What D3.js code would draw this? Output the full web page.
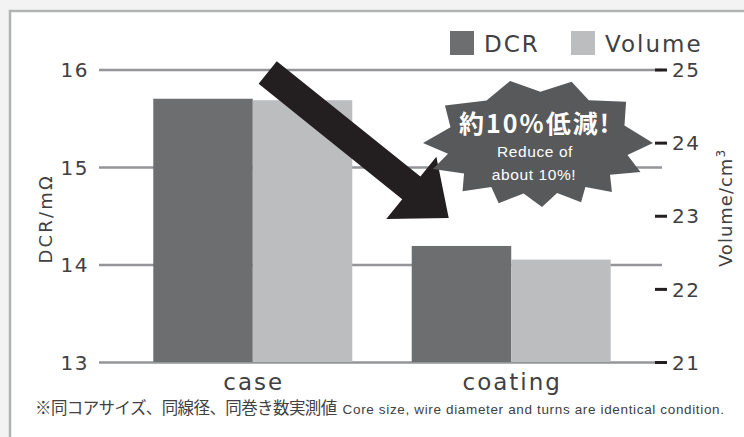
<!DOCTYPE html>
<html>
<head>
<meta charset="utf-8">
<script src="https://cdn.jsdelivr.net/npm/d3@7"></script>
<style>
  html, body { margin: 0; padding: 0; background: #f3f3f3; }
  svg { display: block; }
  text { font-family: "DejaVu Sans", sans-serif; }
  .jp { font-family: "Noto Sans CJK JP", sans-serif; }
  .sans { font-family: "Liberation Sans", Arial, sans-serif; }
</style>
</head>
<body>
<svg id="chart" width="744" height="437"></svg>
<script>
// Measured values
const categories = ["case", "coating"];
const seriesNames = ["DCR", "Volume"];
const dcrValues = [15.70, 14.19];      // mΩ, left axis
const volumeValues = [24.58, 22.40];   // cm³, right axis
const dcrTicks = [13, 14, 15, 16];
const volumeTicks = [21, 22, 23, 24, 25];

const colors = { DCR: "#6d6e70", Volume: "#bcbdbf" };
const textColor = "#414042";

const svg = d3.select("#chart");

// Panel frame
svg.append("rect")
  .attr("x", 10).attr("y", 11)
  .attr("width", 760).attr("height", 450)
  .attr("fill", "#ffffff")
  .attr("stroke", "#b1b2b4")
  .attr("stroke-width", 2.5);

const plot = { left: 99, right: 662, top: 69.5, bottom: 362 };

const yL = d3.scaleLinear().domain([13, 16]).range([plot.bottom, plot.top]);
const yR = d3.scaleLinear().domain([21, 25]).range([plot.bottom, plot.top]);
const x0 = d3.scaleBand().domain(categories)
  .range([plot.left, plot.right + 3])
  .paddingInner(0.23).paddingOuter(0.21);
const x1 = d3.scaleBand().domain(seriesNames).range([0, x0.bandwidth()]).padding(0);

// Left axis with gridlines
const leftAxis = svg.append("g")
  .attr("transform", `translate(${plot.left},0)`)
  .call(d3.axisLeft(yL).tickValues(dcrTicks).tickSize(-(plot.right - plot.left)).tickPadding(10).tickFormat(d3.format("d")));
leftAxis.select(".domain").remove();
leftAxis.selectAll(".tick line").attr("stroke", "#939598").attr("stroke-width", 2.5);
leftAxis.selectAll(".tick text")
  .attr("fill", textColor).style("font-size", "20px").style("letter-spacing", "1.5px")
  .attr("dy", "0.36em");

// Bars
const rows = categories.map((c, i) => ({ category: c, DCR: dcrValues[i], Volume: volumeValues[i] }));
const groups = svg.append("g").selectAll("g").data(rows).join("g")
  .attr("transform", d => `translate(${x0(d.category)},0)`);
groups.selectAll("rect")
  .data(d => [
    { key: "DCR", y: yL(d.DCR) },
    { key: "Volume", y: yR(d.Volume) }
  ])
  .join("rect")
  .attr("x", d => x1(d.key))
  .attr("width", x1.bandwidth())
  .attr("y", d => d.y)
  .attr("height", d => plot.bottom - d.y)
  .attr("fill", d => colors[d.key]);

// Right axis
const rightAxis = svg.append("g")
  .attr("transform", `translate(${plot.right - 7},0)`)
  .call(d3.axisRight(yR).tickValues(volumeTicks).tickSize(12).tickPadding(5).tickFormat(d3.format("d")));
rightAxis.select(".domain").remove();
rightAxis.selectAll(".tick line").attr("stroke", "#231f20").attr("stroke-width", 3);
rightAxis.selectAll(".tick text")
  .attr("fill", textColor).style("font-size", "20px").style("letter-spacing", "1.5px")
  .attr("dy", "0.36em");

// Category labels
svg.append("g").selectAll("text").data(categories).join("text")
  .attr("x", d => x0(d) + x0.bandwidth() / 2 + 1)
  .attr("y", 390)
  .attr("text-anchor", "middle")
  .attr("fill", textColor)
  .style("font-size", "23px").style("letter-spacing", "2px")
  .text(d => d);

// Axis titles
svg.append("text")
  .attr("transform", `translate(52,${(plot.top + plot.bottom) / 2 + 3}) rotate(-90)`)
  .attr("text-anchor", "middle").attr("fill", textColor)
  .style("font-size", "18px").style("letter-spacing", "2.2px")
  .text("DCR/mΩ");
const vt = svg.append("text")
  .attr("transform", `translate(732,208) rotate(-90)`)
  .attr("text-anchor", "middle").attr("fill", textColor)
  .style("font-size", "18px").style("letter-spacing", "1px");
vt.append("tspan").text("Volume/cm");
vt.append("tspan").attr("dy", "-0.55em").style("font-size", "12px").text("3");

// Legend
const legend = svg.append("g").selectAll("g").data(seriesNames).join("g")
  .attr("transform", (d, i) => `translate(${[450, 571][i]},31)`);
legend.append("rect").attr("width", 24).attr("height", 24).attr("fill", d => colors[d]);
legend.append("text")
  .attr("x", 34).attr("y", 21)
  .attr("fill", textColor)
  .style("font-size", "23px").style("letter-spacing", "2px")
  .text(d => d);

// Downward arrow from the case group to the coating group
const tail = [x0("case") + x0.bandwidth() * 0.575, yL(16) + 3];
const tip = [x0("coating") + 37, yL(dcrValues[1]) - 28];
(function drawArrow() {
  const dx = tip[0] - tail[0], dy = tip[1] - tail[1];
  const len = Math.hypot(dx, dy);
  const u = [dx / len, dy / len], n = [-u[1], u[0]];
  const shaftHalf = 14.5, headHalf = 40, headLen = 48;
  const base = [tip[0] - u[0] * headLen, tip[1] - u[1] * headLen];
  const p = (c, k, m) => [c[0] + n[0] * k + u[0] * m, c[1] + n[1] * k + u[1] * m];
  const pts = [
    p(tail, -shaftHalf, 0), p(base, -shaftHalf, 0), p(base, -headHalf, 0),
    tip,
    p(base, headHalf, 0), p(base, shaftHalf, 0), p(tail, shaftHalf, 0)
  ];
  svg.append("polygon").attr("points", pts.map(q => q.join(",")).join(" ")).attr("fill", "#231f20");
})();

// Starburst callout
const starCenter = [538, 143];
const rx = 115, ry = 64;
const spikeAngles = [0, 27, 50, 68, 88, 110, 131, 156, 180, 216, 256, 287, 320];
const starPts = [];
spikeAngles.forEach((a, i) => {
  const next = i + 1 < spikeAngles.length ? spikeAngles[i + 1] : 360;
  const t = a * Math.PI / 180, m = (a + next) / 2 * Math.PI / 180;
  starPts.push([starCenter[0] + rx * Math.cos(t), starCenter[1] + ry * Math.sin(t)]);
  starPts.push([starCenter[0] + rx * 0.8 * Math.cos(m), starCenter[1] + ry * 0.8 * Math.sin(m)]);
});
svg.append("polygon").attr("points", starPts.map(q => q.join(",")).join(" ")).attr("fill", "#58595b");

svg.append("text").attr("class", "jp")
  .attr("x", 535).attr("y", 133)
  .attr("text-anchor", "middle").attr("fill", "#ffffff")
  .style("font-size", "25px").style("font-weight", "700").style("letter-spacing", "2px")
  .text("約10%低減!");
svg.append("text").attr("class", "sans")
  .attr("x", 535).attr("y", 157)
  .attr("text-anchor", "middle").attr("fill", "#ffffff")
  .style("font-size", "15.5px").style("letter-spacing", "0.6px")
  .text("Reduce of");
svg.append("text").attr("class", "sans")
  .attr("x", 534).attr("y", 180)
  .attr("text-anchor", "middle").attr("fill", "#ffffff")
  .style("font-size", "15.5px").style("letter-spacing", "0.6px")
  .text("about 10%!");

// Footnote
const note = svg.append("text").attr("x", 35).attr("y", 414).attr("fill", textColor);
note.append("tspan").attr("class", "jp").style("font-size", "16.5px").style("letter-spacing", "-0.6px")
  .text("※同コアサイズ、同線径、同巻き数実測値");
note.append("tspan").attr("class", "sans").attr("dx", 6).style("font-size", "13.5px").style("letter-spacing", "0.65px")
  .text("Core size, wire diameter and turns are identical condition.");
</script>
</body>
</html>
